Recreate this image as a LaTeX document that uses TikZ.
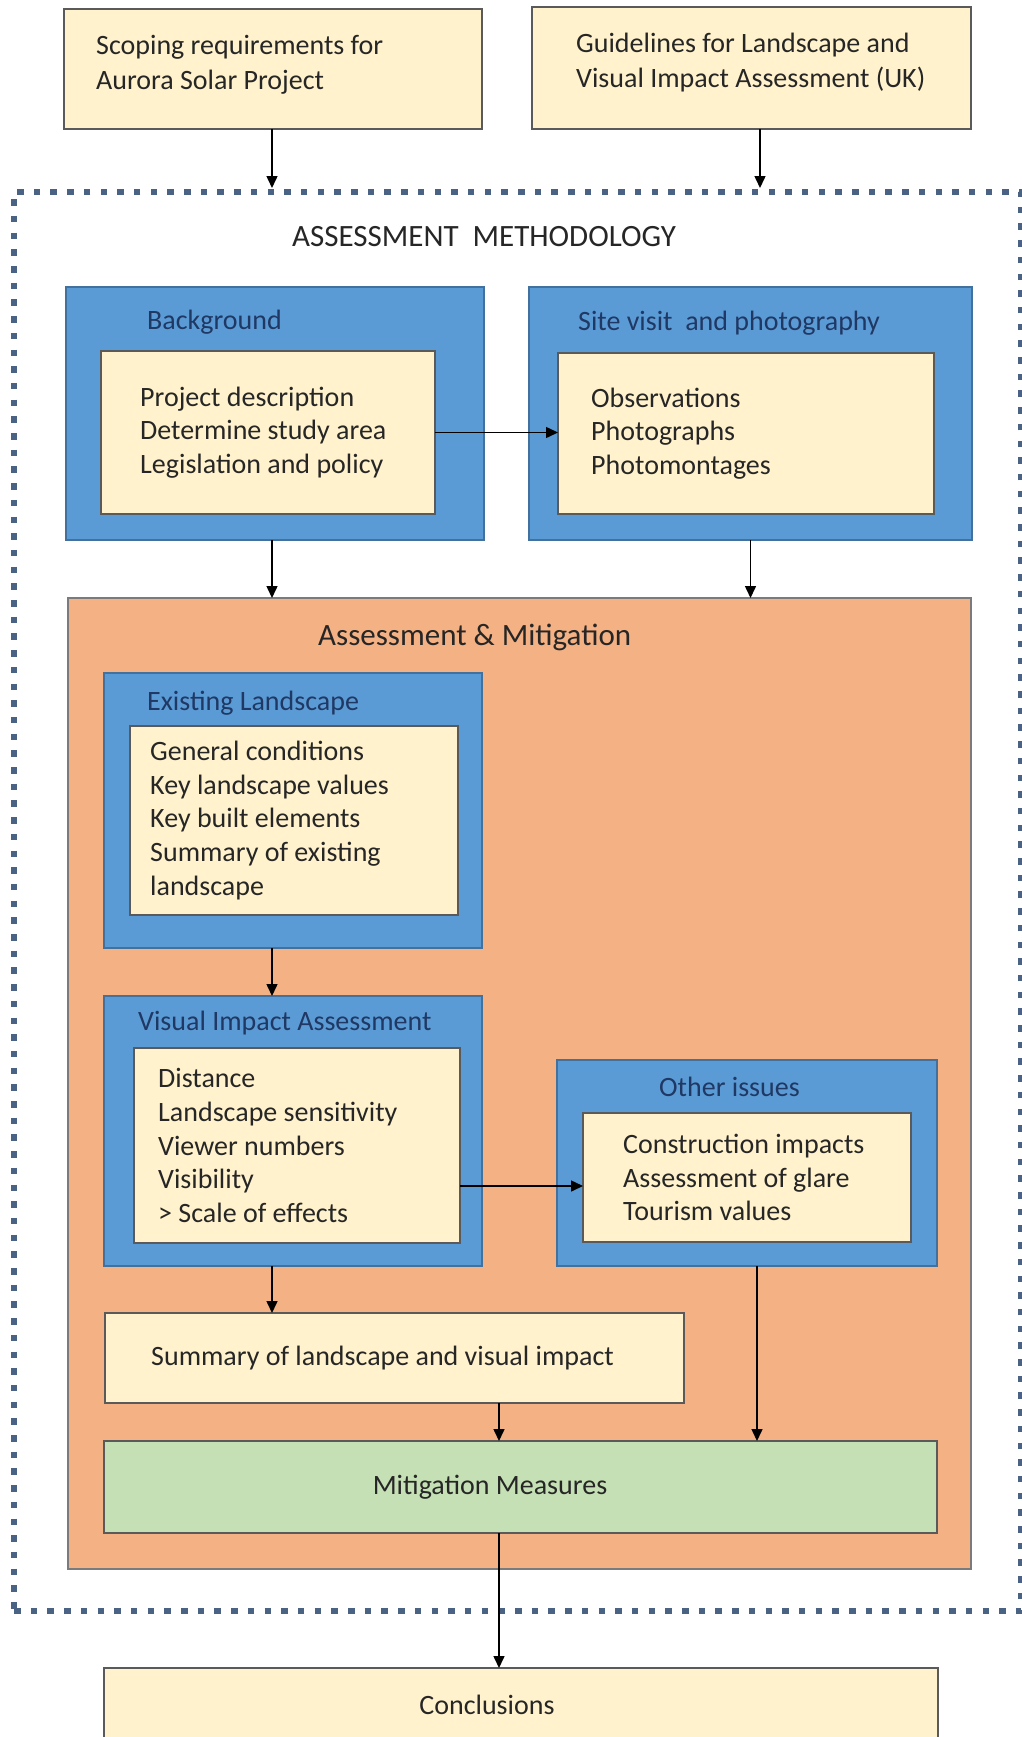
\documentclass[tikz,border=0pt]{standalone}
\usepackage{fontspec}
\setmainfont{Carlito}
\usetikzlibrary{arrows.meta}
\definecolor{creamc}{HTML}{FFF2CC}
\definecolor{bluec}{HTML}{5B9BD5}
\definecolor{blueline}{HTML}{41719C}
\definecolor{orangec}{HTML}{F4B183}
\definecolor{greenc}{HTML}{C5E0B4}
\definecolor{boxline}{HTML}{5A5A5A}
\definecolor{titlec}{HTML}{1F3864}
\definecolor{dotc}{HTML}{4A6283}
\definecolor{txtc}{HTML}{262626}
\begin{document}
\begin{tikzpicture}[x=1pt,y=-1pt,
  basebox/.style={inner sep=0pt, outer sep=0pt, anchor=north west, line width=1.1pt},
  cream/.style={basebox, draw=boxline, fill=creamc},
  bluebox/.style={basebox, draw=blueline, fill=bluec},
  orangebox/.style={basebox, draw=boxline!80, fill=orangec},
  greenbox/.style={basebox, draw=boxline, fill=greenc},
  dotbox/.style={basebox, draw=dotc, line width=6.5pt, dash pattern=on 6.5pt off 10.2pt},
  txt/.style={inner sep=0pt, anchor=west, align=left, text=txtc, font=\fontsize{28}{33.7}\selectfont},
  toptxt/.style={txt, font=\fontsize{28}{35}\selectfont},
  ttl/.style={inner sep=0pt, anchor=west, text=titlec, font=\fontsize{28}{33}\selectfont},
  bigttl/.style={inner sep=0pt, anchor=west, text=txtc, font=\fontsize{31}{36}\selectfont},
  arr/.style={draw=black, line width=1.5pt, -{Triangle[length=12pt,width=11pt]}}
]
\fill[white] (0,0) rectangle (1022,1737);
\useasboundingbox (0,0) rectangle (1022,1737);

% top boxes
\node[cream, minimum width=418pt, minimum height=120pt] (scoping) at (64,9) {};
\node[toptxt] (scopingt) at ([xshift=32pt,yshift=4pt]scoping.west) {Scoping requirements for\\Aurora Solar Project};
\node[cream, minimum width=439pt, minimum height=122pt] (guide) at (532,7) {};
\node[toptxt] (guidet) at ([xshift=44pt,yshift=5pt]guide.west) {Guidelines for Landscape and\\Visual Impact Assessment (UK)};

% methodology frame
\node[dotbox, minimum width=1007pt, minimum height=1419pt] (meth) at (14,192) {};
\node[bigttl] (methtitle) at (292,237) {ASSESSMENT\ \ METHODOLOGY};

% background
\node[bluebox, minimum width=418pt, minimum height=253pt] (bg) at (66,287) {};
\node[ttl] (bgtitle) at (147,322) {Background};
\node[cream, minimum width=334pt, minimum height=163pt] (bgin) at (101,351) {};
\node[txt] (bgint) at ([xshift=39pt]bgin.west) {Project description\\Determine study area\\Legislation and policy};

% site visit
\node[bluebox, minimum width=443pt, minimum height=253pt] (site) at (529,287) {};
\node[ttl] (sitetitle) at (578,323) {Site visit\ \ and photography};
\node[cream, minimum width=376pt, minimum height=161pt] (sitein) at (558,353) {};
\node[txt] (sitet) at ([xshift=33pt]sitein.west) {Observations\\Photographs\\Photomontages};

% assessment & mitigation
\node[orangebox, minimum width=903pt, minimum height=971pt] (orange) at (68,598) {};
\node[bigttl] (orangetitle) at (318,637) {Assessment \& Mitigation};

% existing landscape
\node[bluebox, minimum width=378pt, minimum height=275pt] (exist) at (104,673) {};
\node[ttl] (existtitle) at (147,703) {Existing Landscape};
\node[cream, minimum width=328pt, minimum height=189pt] (existin) at (130,726) {};
\node[txt] (existt) at ([xshift=20pt]existin.west) {General conditions\\Key landscape values\\Key built elements\\Summary of existing\\landscape};

% visual impact assessment
\node[bluebox, minimum width=378pt, minimum height=270pt] (via) at (104,996) {};
\node[ttl] (viatitle) at (138,1023) {Visual Impact Assessment};
\node[cream, minimum width=326pt, minimum height=195pt] (viain) at (134,1048) {};
\node[txt] (viat) at ([xshift=24pt]viain.west) {Distance\\Landscape sensitivity\\Viewer numbers\\Visibility\\\textgreater{} Scale of effects};

% other issues
\node[bluebox, minimum width=380pt, minimum height=206pt] (other) at (557,1060) {};
\node[ttl] (othertitle) at (659,1087) {Other issues};
\node[cream, minimum width=328pt, minimum height=129pt] (otherin) at (583,1113) {};
\node[txt] (othert) at ([xshift=40pt]otherin.west) {Construction impacts\\Assessment of glare\\Tourism values};

% summary
\node[cream, minimum width=579pt, minimum height=90pt] (summary) at (105,1313) {};
\node[txt] (summaryt) at ([xshift=46pt]summary.west) {Summary of landscape and visual impact};

% mitigation
\node[greenbox, minimum width=833pt, minimum height=92pt] (mitig) at (104,1441) {};
\node[txt, anchor=center] (mitigt) at (490,1487) {Mitigation Measures};

% conclusions
\node[cream, minimum width=834pt, minimum height=100pt] (concl) at (104,1668) {};
\node[txt, anchor=center] (conclt) at (487,1705) {Conclusions};

% helper coordinates
\coordinate (lc) at (272,0);
\coordinate (gc) at (760,0);
\coordinate (mc) at (499,0);
\coordinate (oc) at (757,0);
\coordinate (hy) at (0,1186);

% connectors
\draw[arr, shorten >=4pt] (lc |- scoping.south) -- (lc |- meth.north);
\draw[arr, shorten >=4pt] (gc |- guide.south) -- (gc |- meth.north);
\draw[arr] (bgin.east) -- (bgin.east -| sitein.west);
\draw[arr] (lc |- bg.south) -- (lc |- orange.north);
\draw[arr] (site.south) -- (site.south |- orange.north);
\draw[arr] (lc |- exist.south) -- (lc |- via.north);
\draw[arr] (hy -| viain.east) -- (hy -| otherin.west);
\draw[arr] (lc |- via.south) -- (lc |- summary.north);
\draw[arr] (mc |- summary.south) -- (mc |- mitig.north);
\draw[arr] (oc |- other.south) -- (oc |- mitig.north);
\draw[arr] (mc |- mitig.south) -- (mc |- concl.north);
\end{tikzpicture}
\end{document}
